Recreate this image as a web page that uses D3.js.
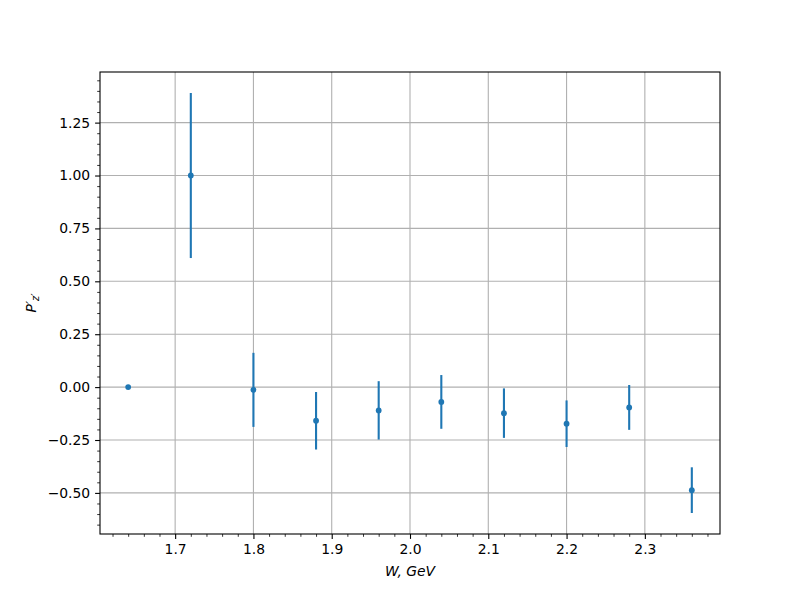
<!DOCTYPE html>
<html>
<head>
<meta charset="utf-8">
<script src="https://cdn.jsdelivr.net/npm/d3@7"></script>
<style>
body { margin: 0; background: #fff; }
svg { font-family: "DejaVu Sans", sans-serif; }
</style>
</head>
<body>
<svg id="chart" width="800" height="600"></svg>
<script>
const wValues = [1.64, 1.72, 1.80, 1.88, 1.96, 2.04, 2.12, 2.20, 2.28, 2.36];
const pValues = [0.0, 1.0, -0.013, -0.159, -0.110, -0.070, -0.123, -0.173, -0.096, -0.487];
const pErrors = [0.0, 0.39, 0.175, 0.136, 0.138, 0.127, 0.117, 0.110, 0.106, 0.108];
const xTicks = [1.7, 1.8, 1.9, 2.0, 2.1, 2.2, 2.3];
const yTicks = [-0.5, -0.25, 0.0, 0.25, 0.5, 0.75, 1.0, 1.25];

const svg = d3.select("#chart");
const L = 100, R = 720, T = 72, B = 534;
const color = "#1f77b4";

const lo = d3.min(pValues.map((v, i) => v - pErrors[i]));
const hi = d3.max(pValues.map((v, i) => v + pErrors[i]));
const yPad = (hi - lo) * 0.05;
const xMin = d3.min(wValues), xMax = d3.max(wValues);
const xPad = (xMax - xMin) * 0.05;

const x = d3.scaleLinear().domain([xMin - xPad, xMax + xPad]).range([L, R]);
const y = d3.scaleLinear().domain([lo - yPad, hi + yPad]).range([B, T]);

svg.append("rect").attr("x", 0).attr("y", 0).attr("width", 800).attr("height", 600).attr("fill", "#fff");

// grid
const grid = svg.append("g");
grid.selectAll(".gx").data(xTicks).enter().append("line")
  .attr("x1", d => x(d)).attr("x2", d => x(d)).attr("y1", T).attr("y2", B)
  .attr("stroke", "#b0b0b0").attr("stroke-width", 1.1);
grid.selectAll(".gy").data(yTicks).enter().append("line")
  .attr("x1", L).attr("x2", R).attr("y1", d => y(d)).attr("y2", d => y(d))
  .attr("stroke", "#b0b0b0").attr("stroke-width", 1.1);

// minor ticks
const xd = x.domain(), yd = y.domain();
const xMinor = d3.range(Math.ceil(xd[0] / 0.02) * 0.02, xd[1], 0.02)
  .filter(v => !xTicks.some(t => Math.abs(t - v) < 1e-6));
const yMinor = d3.range(Math.ceil(yd[0] / 0.05) * 0.05, yd[1], 0.05)
  .filter(v => !yTicks.some(t => Math.abs(t - v) < 1e-6));

const fmtMinus = s => s.replace("-", "\u2212");

const xAxis = d3.axisBottom(x).tickValues(xTicks).tickFormat(d3.format(".1f")).tickSizeInner(4.9).tickSizeOuter(0).tickPadding(4.9);
const gx = svg.append("g").attr("transform", `translate(0,${B})`).call(xAxis);
gx.select(".domain").remove();
gx.selectAll("text").attr("font-size", "13.9px").attr("fill", "#000").attr("font-family", "DejaVu Sans");
gx.selectAll("line").attr("stroke", "#000").attr("stroke-width", 1.1);
const xAxisMinor = d3.axisBottom(x).tickValues(xMinor).tickFormat("").tickSizeInner(2.8).tickSizeOuter(0);
const gxm = svg.append("g").attr("transform", `translate(0,${B})`).call(xAxisMinor);
gxm.select(".domain").remove();
gxm.selectAll("line").attr("stroke", "#000").attr("stroke-width", 0.8);

const yAxis = d3.axisLeft(y).tickValues(yTicks).tickFormat(d => fmtMinus(d3.format(".2f")(d))).tickSizeInner(4.9).tickSizeOuter(0).tickPadding(4.9);
const gy = svg.append("g").attr("transform", `translate(${L},0)`).call(yAxis);
gy.select(".domain").remove();
gy.selectAll("text").attr("font-size", "13.9px").attr("fill", "#000").attr("font-family", "DejaVu Sans");
gy.selectAll("line").attr("stroke", "#000").attr("stroke-width", 1.1);
const yAxisMinor = d3.axisLeft(y).tickValues(yMinor).tickFormat("").tickSizeInner(2.8).tickSizeOuter(0);
const gym = svg.append("g").attr("transform", `translate(${L},0)`).call(yAxisMinor);
gym.select(".domain").remove();
gym.selectAll("line").attr("stroke", "#000").attr("stroke-width", 0.8);

// error bars
const data = wValues.map((w, i) => ({ w, p: pValues[i], e: pErrors[i] }));
svg.append("g").selectAll("line").data(data.filter(d => d.e > 0)).enter().append("line")
  .attr("x1", d => x(d.w)).attr("x2", d => x(d.w))
  .attr("y1", d => y(d.p - d.e)).attr("y2", d => y(d.p + d.e))
  .attr("stroke", color).attr("stroke-width", 2.1);
svg.append("g").selectAll("circle").data(data).enter().append("circle")
  .attr("cx", d => x(d.w)).attr("cy", d => y(d.p)).attr("r", 2.9)
  .attr("fill", color);

// spines
svg.append("rect").attr("x", L).attr("y", T).attr("width", R - L).attr("height", B - T)
  .attr("fill", "none").attr("stroke", "#000").attr("stroke-width", 1.1);

// labels
svg.append("text").attr("x", (L + R) / 2).attr("y", 576).attr("text-anchor", "middle")
  .attr("font-size", "13.9px").attr("font-style", "italic").attr("font-family", "DejaVu Sans")
  .text("W, GeV");

const yl = svg.append("text").attr("transform", `translate(36,${(T + B) / 2}) rotate(-90)`)
  .attr("text-anchor", "middle").attr("font-size", "13.9px").attr("font-style", "italic")
  .attr("font-family", "DejaVu Sans");
yl.append("tspan").text("P\u2032");
yl.append("tspan").attr("font-size", "9.7px").attr("dy", "3").text("z\u2032");
</script>
</body>
</html>
